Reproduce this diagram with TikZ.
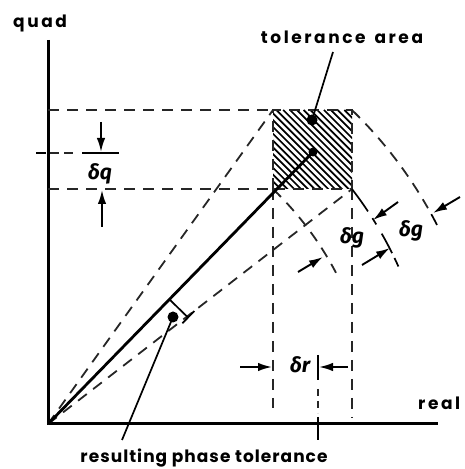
\documentclass[tikz,border=0pt]{standalone}
\usepackage{fontspec}
\setmainfont{Poppins}[LetterSpace=6]
\newfontfamily\widefont{Poppins}[LetterSpace=15]
\newfontfamily\gk{Fira Sans}
\usetikzlibrary{arrows.meta}
\begin{document}
\begin{tikzpicture}[x=1pt,y=1pt,
  ax/.style={line width=3pt},
  dsh/.style={line width=1.8pt, dash pattern=on 11pt off 8pt, black!85},
  vec/.style={line width=2.8pt},
  thinln/.style={line width=1.7pt},
  arr/.style={line width=1.9pt,-{Latex[length=14pt,width=8.5pt]}},
  lbl/.style={font=\bfseries\fontsize{17}{20}\selectfont, inner sep=0pt, anchor=base},
  wlbl/.style={font=\widefont\bfseries\fontsize{17}{20}\selectfont, inner sep=0pt, anchor=base},
  dl/.style={font=\gk\bfseries\itshape\fontsize{21}{24}\selectfont, inner sep=0pt, anchor=base},
  dotn/.style={circle, fill, inner sep=0pt, minimum size=9pt}
]
\useasboundingbox (0,0) rectangle (464,469);
% key points
\coordinate (O) at (48,45);
\coordinate (TL) at (273,359);
\coordinate (TR) at (352,359);
\coordinate (BL) at (273,280);
\coordinate (BR) at (352,280);
\coordinate (qtop) at (48,429);
\coordinate (rend) at (438,45);
% hatched tolerance square
\begin{scope}
  \clip (BL) rectangle (TR);
  \foreach \i in {0,...,25}
    \draw[line width=1.7pt] ({188+\i*6.8},359) -- ++(92,-92);
\end{scope}
\draw[dsh] (BL) rectangle (TR);
% axes
\draw[ax] (qtop) -- (O) -- (rend);
% dashed projections
\draw[dsh] (48,359) -- (TL);
\draw[dsh] (48,280) -- (BL);
\draw[dsh] (O) -- (TL);
\draw[dsh] (O) -- (BR);
\draw[dsh] (BL) -- (273,61);
\draw[dsh] (BR) -- (352,51);
% arcs about the origin
\draw[dsh] (O) ++(46.2:325.3) arc[start angle=46.2, end angle=27.7, radius=325.3];
\draw[thinln] (O) ++(37.7:384.2) arc[start angle=37.7, end angle=33.6, radius=384.2];
\draw[thinln] (O) ++(32.4:384.2) arc[start angle=32.4, end angle=31.3, radius=384.2];
\draw[thinln] (O) ++(29.7:384.2) arc[start angle=29.7, end angle=26.4, radius=384.2];
\draw[thinln] (O) ++(25.6:384.2) arc[start angle=25.6, end angle=24.2, radius=384.2];
\draw[dsh] (O) ++(45.9:437) arc[start angle=45.9, end angle=29.6, radius=437];
\draw[thinln] (O) ++(28.7:437) arc[start angle=28.7, end angle=27.1, radius=437];
% vector and dots
\node[dotn, minimum size=9pt] (C) at (313,317) {};
\draw[vec] (O) -- (C.center);
\node[dotn, minimum size=11pt] (tdot) at (312,349) {};
\node[dotn, minimum size=11pt] (pdot) at (173,152) {};
\coordinate (tlead) at (333,417);
\coordinate (plead) at (122,29);
\draw[thinln] (tdot.center) -- (tlead);
\draw[thinln] (pdot.center) -- (plead);
% phase tolerance bracket
\begin{scope}[shift={(O)}, rotate=45.75]
  \draw[thinln] (174,0) -- (174,-26) (166,-26) -- (183,-26);
\end{scope}
% delta q
\draw[thinln] (36,316) -- (46,316);
\draw[dsh, dash pattern=on 9pt off 5pt] (50,316) -- (76,316);
\draw[thinln] (82,316) -- (119,316);
\draw[arr] (101,347) -- (101,317);
\draw[arr] (102,242) -- (102,279);
% delta r
\draw[thinln] (318,114) -- (318,89);
\draw[dsh, dash pattern=on 7pt off 5pt] (318,80) -- (318,56);
\draw[thinln] (318,52) -- (318,29);
\draw[arr] (240,102) -- (272,102);
\draw[arr] (348,102) -- (319,102);
% delta g arrows
\draw[arr] (298,197) -- (323,212);
\draw[arr] (362,204) -- (390,221);
\draw[arr] (398,267) -- (373,249);
\draw[arr] (460,272) -- (433,256);
% labels
\node[wlbl, anchor=base west] (quad) at (13,441) {quad};
\node[wlbl] (tol) at (342,425) {tolerance\kern 9pt area};
\node[wlbl, anchor=base west] (real) at (418,59) {real};
\node[lbl] (res) at (204,6) {resulting phase tolerance};
\node[dl] (dq) at (100,289) {δq};
\node[dl] (dg1) at (352,225) {δg};
\node[dl] (dg2) at (411,232) {δg};
\node[dl] (dr) at (300,96) {δr};
\end{tikzpicture}
\end{document}
